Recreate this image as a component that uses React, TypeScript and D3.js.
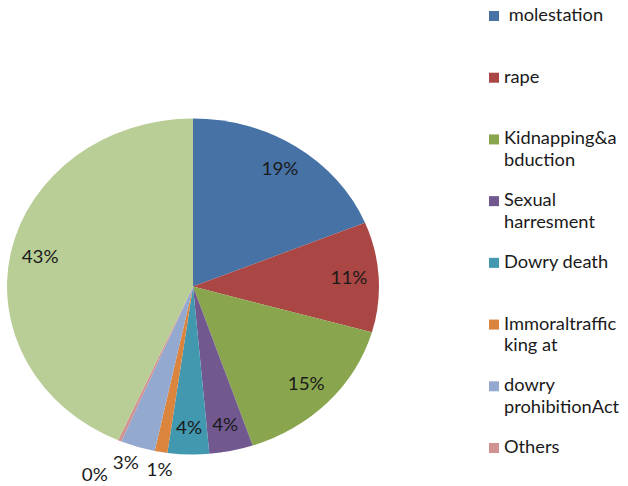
import React from "react";
import * as d3 from "d3";

const categories = [
  "molestation",
  "rape",
  "Kidnapping&abduction",
  "Sexual harresment",
  "Dowry death",
  "Immoraltrafficking at",
  "dowry prohibitionAct",
  "Others",
  "(unlabelled)",
];
const legendLines = [
  [" molestation"],
  ["rape"],
  ["Kidnapping&a", "bduction"],
  ["Sexual", "harresment"],
  ["Dowry death"],
  ["Immoraltraffic", "king at"],
  ["dowry", "prohibitionAct"],
  ["Others"],
  [""],
];
const values = [18.8, 10.6, 15.4, 3.8, 3.6, 1.1, 3.0, 0.3, 43.4];
const colors = [
  "#4672A5",
  "#AA4644",
  "#89A54E",
  "#71588F",
  "#4198AF",
  "#DB843D",
  "#93A9CF",
  "#D19392",
  "#B9CD96",
];

const W = 628;
const H = 486;
const SX = 1.107; // horizontal stretch of the original picture
const R = 168;
const CX = 193 / SX;
const CY = 286.5;
const FONT = "Lato, 'Open Sans', sans-serif";

export default function App() {
  const total = d3.sum(values);
  const pie = d3
    .pie<number>()
    .sort(null)
    .value((d) => d);
  const arcs = pie(values);
  const arc = d3.arc<d3.PieArcDatum<number>>().innerRadius(0).outerRadius(R);

  const labelPlace = (v: number) => {
    const share = v / total;
    if (share < 0.005) return { f: 1.24, da: 0.035 };
    if (share < 0.02) return { f: 1.11, da: -0.01 };
    if (share < 0.035) return { f: 1.11, da: 0.03 };
    return { f: 0.84, da: 0 };
  };

  const legendY = d3.scaleLinear().domain([0, 7]).range([16, 448]);

  return (
    <svg
      width={W}
      height={H}
      style={{ position: "absolute", left: 0, top: 0, background: "#fff" }}
    >
      <g transform={`scale(${SX},1)`}>
        <g transform={`translate(${CX},${CY})`}>
          {arcs.map((a, i) => (
            <path key={i} d={arc(a) || ""} fill={colors[i]} />
          ))}
          {arcs.map((a, i) => {
            const p = labelPlace(a.data);
            const mid = (a.startAngle + a.endAngle) / 2 + p.da;
            const rr = R * p.f;
            const x = Math.sin(mid) * rr;
            const y = -Math.cos(mid) * rr;
            return (
              <text
                key={i}
                x={x}
                y={y}
                dy="0.35em"
                textAnchor="middle"
                fontFamily={FONT}
                fontSize={17}
                fill="#1a1a1a"
              >
                {`${Math.round((a.data / total) * 100)}%`}
              </text>
            );
          })}
        </g>
        <g>
          {categories.map((c, i) => {
            const cy = legendY(i);
            return (
              <g key={c}>
                <rect
                  x={489 / SX}
                  y={cy - 5}
                  width={10 / SX}
                  height={10}
                  fill={colors[i]}
                />
                {legendLines[i].map((ln, j) => (
                  <text
                    key={j}
                    x={504 / SX}
                    y={cy + 5 + j * 21.7}
                    fontFamily={FONT}
                    fontSize={16.5}
                    fill="#1a1a1a"
                    style={{ whiteSpace: "pre" }}
                  >
                    {ln}
                  </text>
                ))}
              </g>
            );
          })}
        </g>
      </g>
    </svg>
  );
}
